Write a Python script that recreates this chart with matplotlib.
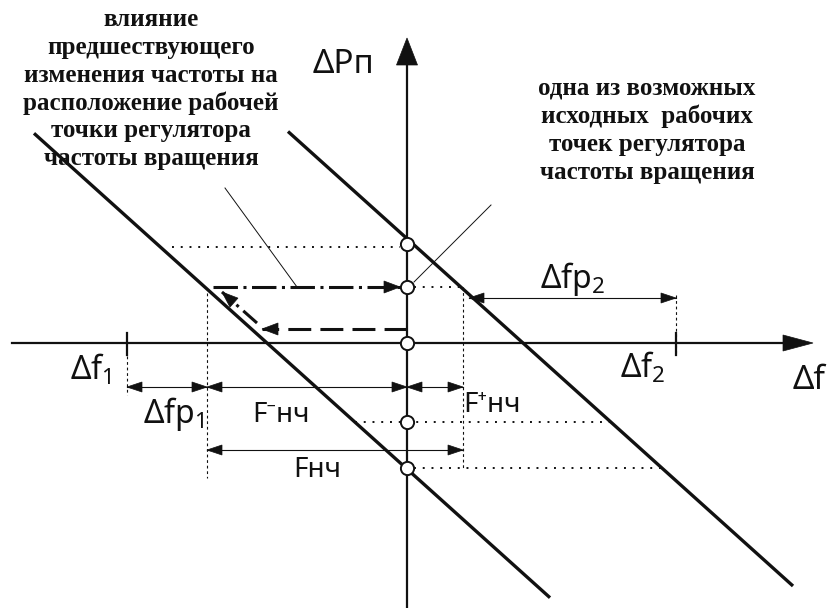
import numpy as np
import matplotlib
matplotlib.use('Agg')
import matplotlib.pyplot as plt
from matplotlib.patches import Polygon

INK = '#111111'
LABEL_FONT = ['Noto Sans', 'DejaVu Sans']
NOTE_FONT = ['Liberation Serif', 'DejaVu Serif']

# static characteristics dPп = SLOPE * (df - cross)
SLOPE = -0.9
LINE_CROSS = [-140, 116]
LINE_SPAN = [(-373, 143), (-119, 386)]

# operating points on the dPп axis
P_POINTS = [99, 56, 0, -79, -125]

# dotted guides: (y, x0, x1) horizontal, (x, y0, y1) vertical
GUIDES_H = [(96, -235, -7), (56, 7, 54), (0, 7, 116), (-79, -52, 204), (-125, 7, 255)]
GUIDES_V = [(-280, -13, -52), (-200, 50, -135), (56, 56, -125), (269, 48, -10)]

# frequency marks df1, df2 on the df axis
DF_TICKS = [-280, 269]

# dimension arrows (x0, x1, y): dfp1, F-нч, F+нч, Fнч, dfp2
DIMS = [(-280, -200, -44), (-200, 0, -44), (0, 56, -44), (-200, 56, -107), (62, 269, 45)]

# shift of the operating point: back along the axis, up the line, right to the new point
DASHED = ([0, -145], [14, 14])
DASHDOT_UP = ([-150, -185], [20, 51])
DASHDOT_RIGHT = ([-194, -7], [56, 56])

# thin leaders from the notes
LEADERS = [((-182, -110), (155, 56)), ((84, 7), (138, 61))]

LEFT_NOTE = ['влияние', 'предшествующего', 'изменения частоты на',
             'расположение рабочей', 'точки регулятора', 'частоты вращения']
RIGHT_NOTE = ['одна из возможных', 'исходных  рабочих', 'точек регулятора',
              'частоты вращения']

fig = plt.figure(figsize=(8.34, 6.08), dpi=100)
ax = fig.add_axes([0, 0, 1, 1])
ax.set_xlim(-407, 427); ax.set_ylim(-265, 343); ax.axis('off')


def head(x, y, ux, uy, L=15, W=11, z=6):
    n = np.hypot(ux, uy); ux, uy = ux / n, uy / n
    bx, by = x - ux * L, y - uy * L
    pts = [(x, y), (bx - uy * W / 2, by + ux * W / 2), (bx + uy * W / 2, by - ux * W / 2)]
    ax.add_patch(Polygon(pts, closed=True, fc=INK, ec=INK, lw=0.5, zorder=z))


def label(x, y, s, size=23):
    ax.text(x, y, s, fontsize=size, family=LABEL_FONT, color=INK, va='baseline', ha='left')


# notes
for i, s in enumerate(LEFT_NOTE):
    ax.text(-256, 323 - i * 27.6, s, fontsize=18, family=NOTE_FONT, weight='bold',
            color=INK, ha='center', va='center', zorder=1)
for i, s in enumerate(RIGHT_NOTE):
    ax.text(240, 255 - i * 28.3, s, fontsize=18, family=NOTE_FONT, weight='bold',
            color=INK, ha='center', va='center', zorder=1)

# coordinate axes
ax.plot([-395, 380], [0, 0], color=INK, lw=1.6, zorder=3)
head(406, 0, 1, 0, L=30, W=16)
ax.plot([0, 0], [-265, 280], color=INK, lw=1.6, zorder=3)
head(0, 305, 0, 1, L=27, W=21)
for x in DF_TICKS:
    ax.plot([x, x], [10, -12], color=INK, lw=1.6, zorder=3)

# static characteristics
for cross, span in zip(LINE_CROSS, LINE_SPAN):
    xs = np.array(span, dtype=float)
    ax.plot(xs, SLOPE * (xs - cross), color=INK, lw=2.4, solid_capstyle='butt', zorder=4)

# dotted guides
for y, x0, x1 in GUIDES_H:
    ax.plot([x0, x1], [y, y], color=INK, lw=1.4, ls=(0, (1, 3.5)), zorder=2)
for x, y0, y1 in GUIDES_V:
    ax.plot([x, x], [y0, y1], color=INK, lw=0.8, ls=(0, (2.5, 2.5)), zorder=2)

# dimension arrows
for x0, x1, y in DIMS:
    ax.plot([x0, x1], [y, y], color=INK, lw=0.8, zorder=3)
    head(x0, y, -1, 0, L=15, W=10)
    head(x1, y, 1, 0, L=15, W=10)

# operating point shift
ax.plot(*DASHED, color=INK, lw=2.2, ls=(0, (7.5, 3)), zorder=3)
head(DASHED[0][1], DASHED[1][1], -1, 0, L=16, W=12)
ax.plot(*DASHDOT_UP, color=INK, lw=2.2, ls=(0, (6, 2, 1, 2)), zorder=3)
head(DASHDOT_UP[0][1], DASHDOT_UP[1][1],
     DASHDOT_UP[0][1] - DASHDOT_UP[0][0], DASHDOT_UP[1][1] - DASHDOT_UP[1][0], L=16, W=12)
ax.plot(*DASHDOT_RIGHT, color=INK, lw=2.2, ls=(0, (8, 1.8, 1, 1.8)), zorder=3)
head(DASHDOT_RIGHT[0][1], DASHDOT_RIGHT[1][1], 1, 0, L=16, W=12)

# leaders
for xs, ys in LEADERS:
    ax.plot(xs, ys, color=INK, lw=0.7, zorder=2)

# operating points
ax.plot(np.zeros(len(P_POINTS)), P_POINTS, 'o', ms=9.5, mfc='white', mec=INK, mew=1.4, zorder=7)

# labels
label(-94, 270, 'ΔPп', 24)
label(386, -46, 'Δf', 24)
label(-337, -37, r'Δ$\mathregular{f_1}$')
label(-264, -80, r'Δ$\mathregular{fp_1}$')
label(213, -35, r'Δ$\mathregular{f_2}$')
label(133, 55, r'Δ$\mathregular{fp_2}$')
label(-155, -79, 'F⁻нч', 20)
label(56, -69, 'F⁺нч', 20)
label(-114, -134, 'Fнч', 20)

fig.savefig('out.png', dpi=100, facecolor='white')
